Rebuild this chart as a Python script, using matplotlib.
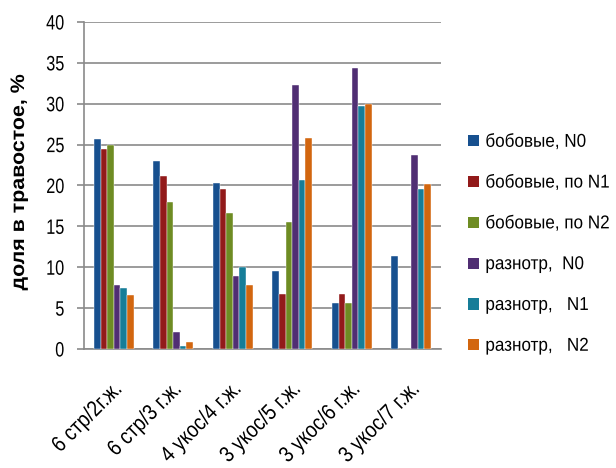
import matplotlib
matplotlib.use("Agg")
import matplotlib.pyplot as plt
from matplotlib.patches import Patch
from matplotlib.patheffects import AbstractPathEffect
from matplotlib.transforms import Affine2D
import numpy as np

plt.rcParams['font.family'] = ['Liberation Sans', 'DejaVu Sans']

categories = ["6 стр/2г.ж.", "6 стр/3 г.ж.", "4 укос/4 г.ж.",
              "3 укос/5 г.ж.", "3 укос/6 г.ж.", "3 укос/7 г.ж."]

series_names = ["бобовые, N0", "бобовые, по N1", "бобовые, по N2",
                "разнотр,  N0", "разнотр,   N1", "разнотр,   N2"]

bob_n0 = [25.7, 23.0, 20.3, 9.6, 5.6, 11.4]
bob_n1 = [24.5, 21.2, 19.6, 6.7, 6.7, 0.0]
bob_n2 = [25.0, 18.0, 16.6, 15.5, 5.6, 0.0]
raz_n0 = [7.8, 2.1, 8.9, 32.3, 34.4, 23.7]
raz_n1 = [7.5, 0.4, 10.0, 20.7, 29.7, 19.6]
raz_n2 = [6.6, 0.8, 7.8, 25.8, 30.0, 20.2]

series = [bob_n0, bob_n1, bob_n2, raz_n0, raz_n1, raz_n2]
colors = ["#17508f", "#921a1a", "#6e8c23", "#502e73", "#167d98", "#d2660f"]


class Stretch(AbstractPathEffect):
    """Scale glyph outlines (narrow / tall look) about a text edge and the baseline."""

    def __init__(self, sx=1.0, sy=1.0, anchor="left"):
        super().__init__()
        self.sx = sx
        self.sy = sy
        self.anchor = anchor

    def draw_path(self, renderer, gc, tpath, affine, rgbFace=None):
        xa = 0.0
        if len(tpath.vertices):
            x1 = tpath.get_extents().x1
            if self.anchor == "right":
                xa = x1
            elif self.anchor == "center":
                xa = x1 / 2.0
        tr = Affine2D().translate(-xa, 0).scale(self.sx, self.sy).translate(xa, 0)
        renderer.draw_path(gc, tpath, tr + affine, rgbFace)


fig = plt.figure(figsize=(6.16, 4.68), dpi=100)
ax = fig.add_axes([0.1364, 0.2543, 0.5795, 0.6987])

x = np.arange(len(categories))
n = len(series)
w = 0.667 / n
for i, (vals, c) in enumerate(zip(series, colors)):
    offs = (i - (n - 1) / 2) * w
    ax.bar(x + offs, vals, width=w, color=c, edgecolor="#ffffff", linewidth=0.3, zorder=3)

ax.set_xlim(-0.5, len(categories) - 0.5)
ax.set_ylim(0, 40)
ax.set_yticks(np.arange(0, 41, 5))
ax.yaxis.grid(True, color="#8a8a8a", linewidth=1.2, zorder=0)
ax.set_axisbelow(True)

for s in ["top", "right"]:
    ax.spines[s].set_visible(False)
for s in ["left", "bottom"]:
    ax.spines[s].set_color("#8a8a8a")
    ax.spines[s].set_linewidth(1.2)

ax.tick_params(axis="y", direction="out", length=5, color="#8a8a8a", width=1.2,
               labelsize=15, pad=9)
ax.tick_params(axis="x", length=0, pad=23)
ax.set_xticks(x)
ax.set_xticklabels(categories, rotation=45, ha="right", va="top",
                   rotation_mode="anchor", fontsize=13.8)

for t in ax.get_xticklabels():
    t.set_path_effects([Stretch(1.0, 1.16, "right")])
for tk in ax.yaxis.get_major_ticks():
    tk.label1.set_path_effects([Stretch(0.78, 1.0, "right")])

ax.set_ylabel("доля в травостое, %", fontsize=14, fontweight="bold")
ax.yaxis.set_label_coords(-0.157, 0.51)
ax.yaxis.label.set_path_effects([Stretch(1.1, 1.0, "center")])

handles = [Patch(facecolor=c, edgecolor="none") for c in colors]
leg = fig.legend(handles, series_names, loc="upper left",
                 bbox_to_anchor=(0.7605, 0.712), frameon=False, fontsize=12.3,
                 handlelength=0.64, handleheight=0.64, handletextpad=0.35,
                 labelspacing=1.51, borderaxespad=0, borderpad=0)
for t in leg.get_texts():
    t.set_path_effects([Stretch(1.0, 1.09, "left")])

fig.savefig("out.png", dpi=100)
